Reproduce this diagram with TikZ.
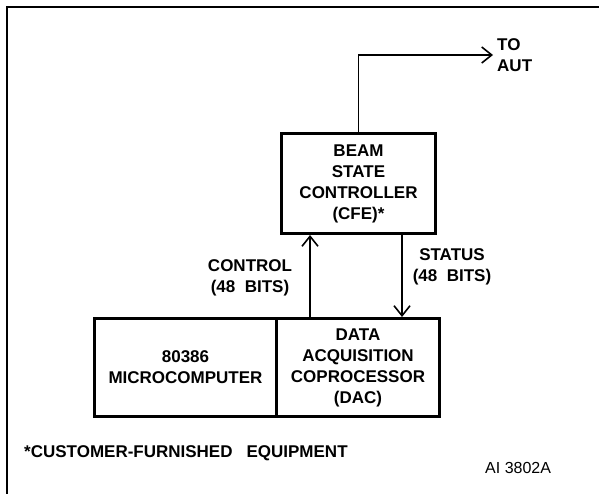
\documentclass[tikz,border=0pt]{standalone}
\usepackage{fontspec}
\setmainfont{Liberation Sans}
\usetikzlibrary{arrows.meta}
\tikzset{
  blk/.style={draw,line width=3pt,inner sep=0pt,align=center,
    font=\bfseries\fontsize{17}{21}\selectfont},
  lbl/.style={align=center,inner sep=0pt,font=\bfseries\fontsize{17}{21}\selectfont},
  sig/.style={line width=1.6pt,-{Straight Barb[length=10pt,width=16pt,line width=1.6pt]}}
}
\begin{document}
\begin{tikzpicture}[x=1pt,y=-1pt]
        \useasboundingbox (0,0) rectangle (599,494);
        %cornice
        \draw[line width=2pt] (7,494)--(7,7)--(599,7);

        %blocchi
        \node[blk,minimum width=154pt,minimum height=100pt] (cfe) at (358.5,183.5)
          {BEAM\\STATE\\CONTROLLER\\(CFE)*};
        \node[blk,minimum width=182pt,minimum height=98pt] (micro) at (185.5,367.5)
          {80386\\MICROCOMPUTER};
        \node[blk,minimum width=163pt,minimum height=98pt] (dac) at (358,367.5)
          {DATA\\ACQUISITION\\COPROCESSOR\\(DAC)};

        %segnali
        \coordinate (ctl) at (310,0);
        \coordinate (sts) at (402,0);
        \coordinate (aut) at (493,55);
        \draw[sig] (ctl |- dac.north)--(ctl |- cfe.south);
        \draw[sig] (sts |- cfe.south)--(sts |- dac.north);
        \draw[sig] (cfe.north)--(cfe.north |- aut)--(aut);

        %label
        \node[lbl] (ctllbl) at (250,277.5) {CONTROL\\(48\ \ BITS)};
        \node[lbl] (stslbl) at (452,266.5) {STATUS\\(48\ \ BITS)};
        \node[lbl,anchor=west,align=left] (autlbl) at (497,55) {TO\\AUT};
        \node[lbl,anchor=west] (note) at (24,453) {*CUSTOMER-FURNISHED\hspace{14pt}EQUIPMENT};
        \node[anchor=west,inner sep=0pt,font=\fontsize{16}{18}\selectfont] (code) at (485,468) {AI 3802A};
\end{tikzpicture}
\end{document}
